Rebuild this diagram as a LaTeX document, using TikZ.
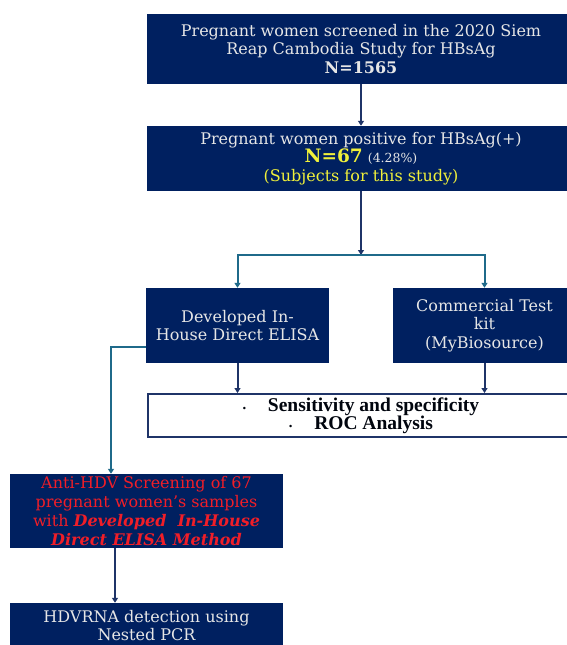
\documentclass[tikz,border=0pt]{standalone}
\usepackage{fontspec}
\setmainfont{DejaVu Serif}
\newfontfamily\tnr{Liberation Serif}
\usetikzlibrary{arrows.meta}
\definecolor{navy}{HTML}{002060}
\definecolor{teal2}{HTML}{1F6A8A}
\definecolor{arrnavy}{HTML}{1F3468}
\definecolor{lighttext}{HTML}{E6E6E6}
\definecolor{yel}{HTML}{F0F03A}
\definecolor{redtxt}{HTML}{F01E28}
\begin{document}
\begin{tikzpicture}[x=1pt,y=-1pt,
 box/.style={fill=navy,draw=none,text=lighttext,align=center,inner sep=0pt,font=\fontsize{16}{18.8}\selectfont},
 boxtext/.style={text=lighttext,align=center,inner sep=0pt,font=\fontsize{16}{18}\selectfont},
 navyarrow/.style={draw=arrnavy,line width=2pt,-{Triangle[length=5pt,width=6pt]}},
 tealarrow/.style={draw=teal2,line width=2pt,-{Triangle[length=5pt,width=6pt]}},
]
\useasboundingbox (0,0) rectangle (567,645);
\clip (0,0) rectangle (567,645);
\fill[white] (0,0) rectangle (567,645);
\node[box,minimum width=428pt,minimum height=70pt] (b1) at (361,49)
 {Pregnant women screened in the 2020 Siem\\Reap Cambodia Study for HBsAg\\\textbf{N=1565}};
\node[box,minimum width=428pt,minimum height=65pt] (b2) at (361,158.5)
 {Pregnant women positive for HBsAg(+)\\{\color{yel}\bfseries\fontsize{18.5}{18.8}\selectfont N=67} {\fontsize{12.5}{18.8}\selectfont (4.28\%)}\\{\color{yel}(Subjects for this study)}};
\node[box,minimum width=183pt,minimum height=75pt] (b3) at (237.5,325.5)
 {Developed In-\\House Direct ELISA};
\node[box,minimum width=183pt,minimum height=75pt] (b4) at (484.5,325.5)
 {Commercial Test\\kit\\(MyBiosource)};
\node[draw=arrnavy,line width=2pt,fill=white,minimum width=426pt,minimum height=43pt,inner sep=0pt,align=center,
 font=\tnr\bfseries\fontsize{19.5}{18}\selectfont,text=black!85!navy] (ana) at (361,415.5)
 {{\small\textbullet}\hspace{22pt}Sensitivity and specificity\\{\small\textbullet}\hspace{22pt}ROC Analysis};
\node[box,text=redtxt,minimum width=273pt,minimum height=74pt] (b5) at (146.5,511)
 {Anti-HDV Screening of 67\\pregnant women’s samples\\with \textbf{\textit{Developed\ \ In-House}}\\\textbf{\textit{Direct ELISA Method}}};
\node[box,minimum width=273pt,minimum height=42pt] (b6) at (146.5,624) {};
\node[boxtext] (b6t) at (146.5,625.5) {HDVRNA detection using\\Nested PCR};
% connectors
\coordinate (j) at (361,255);
\coordinate (t1) at (111,347);
\coordinate (c5) at (115,0);
\draw[navyarrow] (b1.south) -- (b2.north);
\draw[navyarrow] (b2.south) -- (j);
\draw[tealarrow] (j) -| (b3.north);
\draw[tealarrow] (j) -| (b4.north);
\draw[navyarrow] (b3.south) -- (b3.south |- ana.north);
\draw[navyarrow] (b4.south) -- (b4.south |- ana.north);
\draw[tealarrow] (b3.west |- t1) -- (t1) -- (t1 |- b5.north);
\draw[navyarrow] (c5 |- b5.south) -- (c5 |- b6.north);
\end{tikzpicture}
\end{document}
